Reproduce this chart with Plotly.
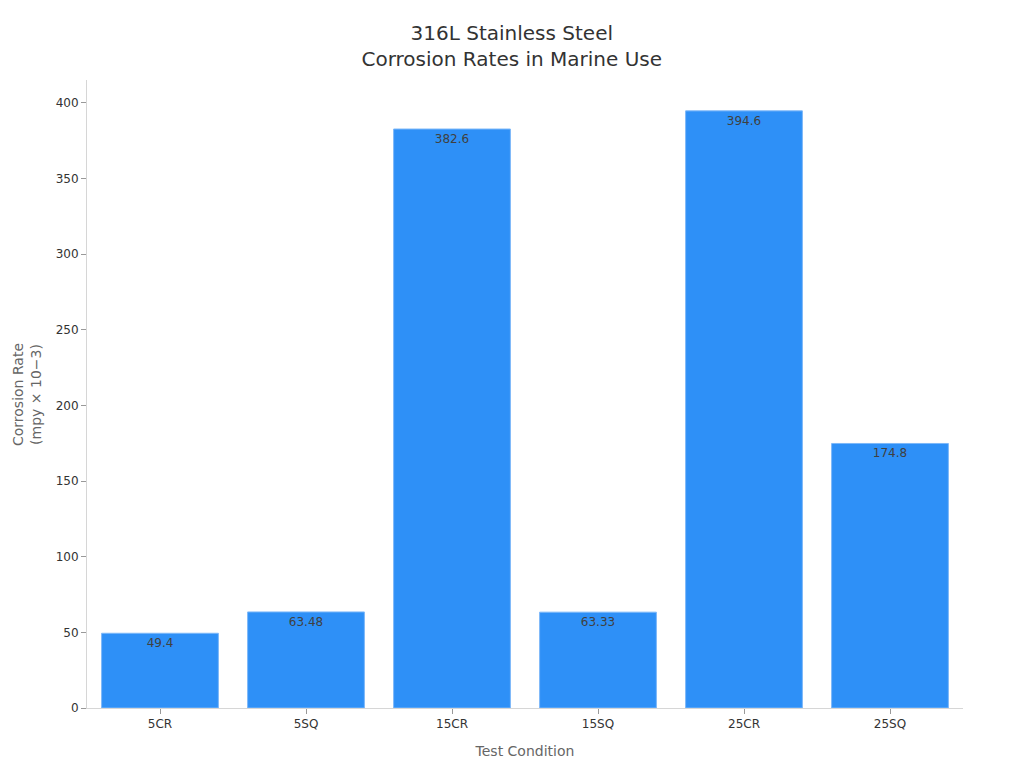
import plotly.graph_objects as go

categories = ["5CR", "5SQ", "15CR", "15SQ", "25CR", "25SQ"]
values = [49.4, 63.48, 382.6, 63.33, 394.6, 174.8]
labels = ["49.4", "63.48", "382.6", "63.33", "394.6", "174.8"]

fig = go.Figure(go.Bar(
    x=categories, y=values, text=labels,
    textposition="inside", insidetextanchor="end",
    textfont=dict(color="#404040", size=12, family="DejaVu Sans"),
    marker=dict(color="#2E90F7", line=dict(color="#7DB8F9", width=1)),
    hoverinfo="x+y",
))

fig.update_layout(
    width=1024, height=768,
    paper_bgcolor="white", plot_bgcolor="white",
    font=dict(family="DejaVu Sans", color="#333333"),
    title=dict(text="316L Stainless Steel<br>Corrosion Rates in Marine Use",
               x=0.492, xanchor="center", y=0.958, yanchor="top",
               font=dict(size=20, color="#333333")),
    margin=dict(l=79, r=69, t=72, b=68),
    bargap=0.2,
    showlegend=False,
    uniformtext=dict(mode="show", minsize=12),
    annotations=[dict(
        text="Corrosion Rate<br>(mpy × 10−3)", textangle=-90,
        xref="paper", yref="paper", x=-0.0685, y=0.5,
        xanchor="center", yanchor="middle", showarrow=False,
        font=dict(size=14, color="#666666"),
    )],
)
fig.update_xaxes(
    title=dict(text="Test Condition", font=dict(size=14, color="#666666"), standoff=15),
    showline=True, linecolor="#d6d6d6", linewidth=1,
    ticks="outside", tickcolor="#999999", ticklen=5,
    tickfont=dict(size=12, color="#333333"),
    showgrid=False, automargin=False,
)
fig.update_yaxes(
    range=[0, 415], dtick=50,
    showline=True, linecolor="#d6d6d6", linewidth=1,
    ticks="outside", tickcolor="#999999", ticklen=5,
    tickfont=dict(size=12, color="#333333"),
    showgrid=False, zeroline=False, automargin=False,
)

fig.write_html("out.html")
